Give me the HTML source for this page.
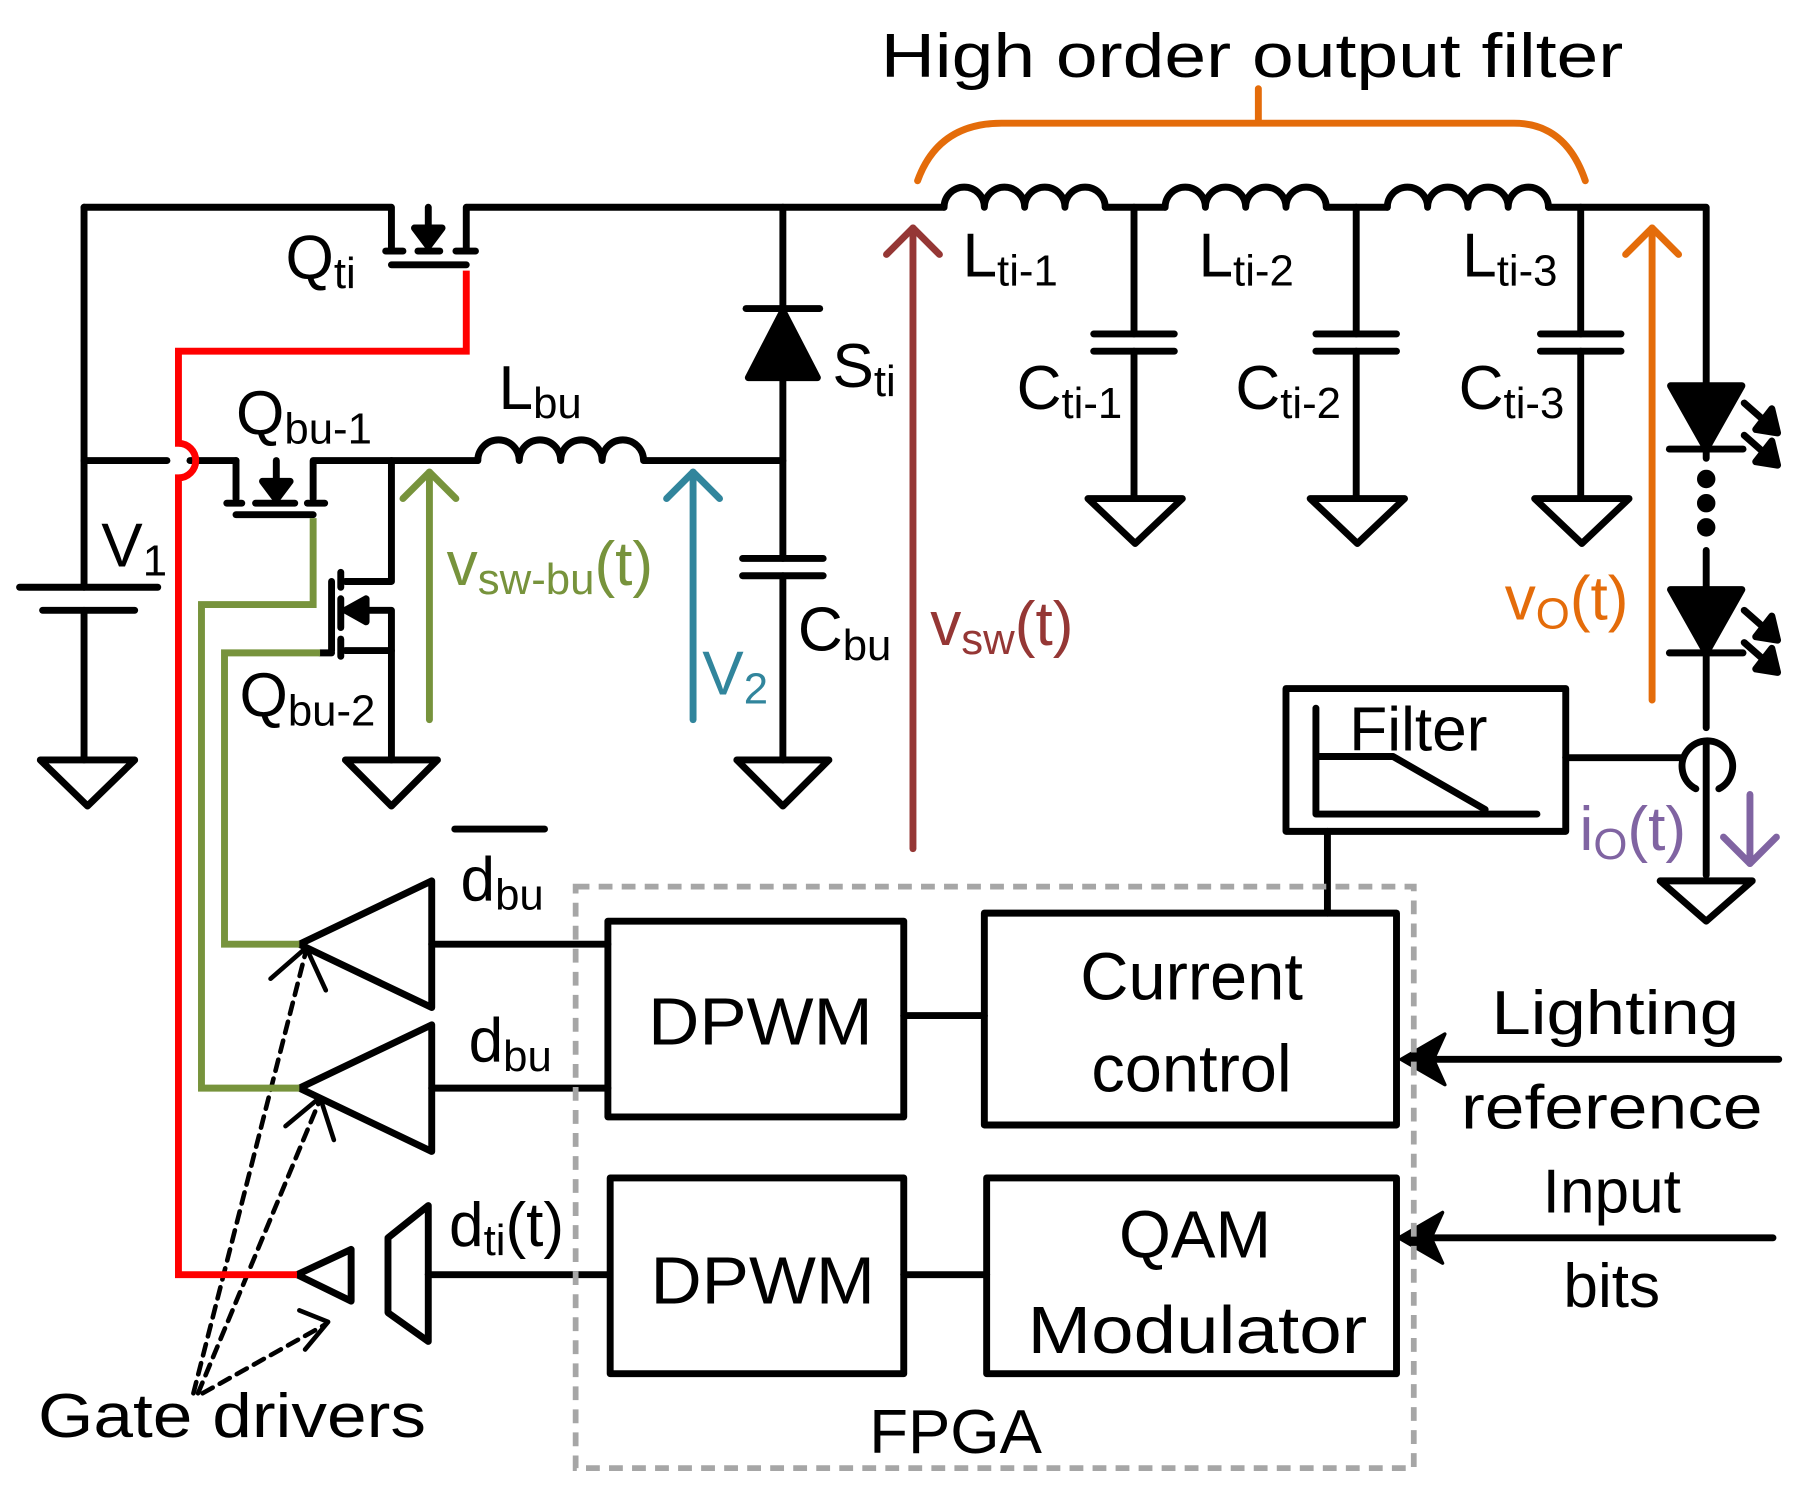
<!DOCTYPE html>
<html><head><meta charset="utf-8"><style>
html,body{margin:0;padding:0;background:#fff;}
svg{display:block;}
text{font-family:"Liberation Sans Narrow","Liberation Sans",sans-serif;}
</style></head><body>
<svg width="1796" height="1490" viewBox="0 0 1560 1294" preserveAspectRatio="none" xmlns="http://www.w3.org/2000/svg">
<g fill="none" stroke="#000" stroke-width="6" stroke-linecap="round" stroke-linejoin="round">
<!-- top wire -->
<polyline points="73,180 340,180 340,215"/>
<polyline points="405,215 405,180 820,180"/>
<line x1="372" y1="180" x2="372" y2="200"/>
<polygon points="360,198 384,198 372,214" fill="#000"/>
<line x1="335" y1="218" x2="350" y2="218"/><line x1="363" y1="218" x2="382" y2="218"/><line x1="396" y1="218" x2="413" y2="218"/>
<line x1="340" y1="230" x2="405" y2="230"/>
<!-- V1 -->
<line x1="73" y1="180" x2="73" y2="510"/>
<line x1="17" y1="510" x2="137" y2="510"/>
<line x1="37" y1="530" x2="117" y2="530"/>
<line x1="73" y1="530" x2="73" y2="660"/>
<polygon points="35,660 117,660 76,700"/>
<!-- y=400 wire -->
<line x1="73" y1="400" x2="145" y2="400"/>
<line x1="165" y1="400" x2="205" y2="400"/>
<polyline points="205,400 205,433"/>
<polyline points="272,433 272,400 415,400"/>
<line x1="240" y1="400" x2="240" y2="418"/>
<polygon points="228,418 252,418 240,434" fill="#000"/>
<line x1="197" y1="437" x2="210" y2="437"/><line x1="222" y1="437" x2="256" y2="437"/><line x1="267" y1="437" x2="282" y2="437"/>
<line x1="205" y1="447" x2="272" y2="447"/>
<!-- Lbu -->
<path d="M415,400 a18,18 0 0 1 36,0 a18,18 0 0 1 36,0 a18,18 0 0 1 36,0 a18,18 0 0 1 36,0"/>
<line x1="560" y1="400" x2="680" y2="400"/>
<!-- Qbu-2 -->
<polyline points="340,400 340,505 300,505"/>
<line x1="296" y1="497" x2="296" y2="510"/><line x1="296" y1="520" x2="296" y2="545"/><line x1="296" y1="555" x2="296" y2="570"/>
<line x1="288" y1="505" x2="288" y2="565"/>
<polyline points="300,530 340,530 340,660"/>
<line x1="300" y1="565" x2="340" y2="565"/>
<line x1="278" y1="567" x2="288" y2="567"/>
<polygon points="300,530 318,520 318,540" fill="#000"/>
<polygon points="300,660 380,660 340,700"/>
<!-- Sti / Cbu -->
<line x1="680" y1="180" x2="680" y2="485"/>
<line x1="648" y1="268" x2="712" y2="268"/>
<polygon points="650,328 710,328 680,270" fill="#000"/>
<line x1="645" y1="485" x2="715" y2="485"/>
<line x1="645" y1="500" x2="715" y2="500"/>
<line x1="680" y1="500" x2="680" y2="660"/>
<polygon points="640,660 720,660 680,700"/>
<!-- Lti inductors -->
<path d="M820,180 a17.5,17.5 0 0 1 35,0 a17.5,17.5 0 0 1 35,0 a17.5,17.5 0 0 1 35,0 a17.5,17.5 0 0 1 35,0"/>
<line x1="960" y1="180" x2="1012" y2="180"/>
<path d="M1012,180 a17.5,17.5 0 0 1 35,0 a17.5,17.5 0 0 1 35,0 a17.5,17.5 0 0 1 35,0 a17.5,17.5 0 0 1 35,0"/>
<line x1="1152" y1="180" x2="1205" y2="180"/>
<path d="M1205,180 a17.5,17.5 0 0 1 35,0 a17.5,17.5 0 0 1 35,0 a17.5,17.5 0 0 1 35,0 a17.5,17.5 0 0 1 35,0"/>
<polyline points="1345,180 1482,180 1482,335"/>
<!-- caps -->
<line x1="985" y1="180" x2="985" y2="290"/><line x1="950" y1="290" x2="1020" y2="290"/><line x1="950" y1="305" x2="1020" y2="305"/><line x1="985" y1="305" x2="985" y2="433"/>
<polygon points="945,433 1027,433 986,472"/>
<line x1="1178" y1="180" x2="1178" y2="290"/><line x1="1143" y1="290" x2="1213" y2="290"/><line x1="1143" y1="305" x2="1213" y2="305"/><line x1="1178" y1="305" x2="1178" y2="433"/>
<polygon points="1138,433 1220,433 1179,472"/>
<line x1="1373" y1="180" x2="1373" y2="290"/><line x1="1338" y1="290" x2="1408" y2="290"/><line x1="1338" y1="305" x2="1408" y2="305"/><line x1="1373" y1="305" x2="1373" y2="433"/>
<polygon points="1333,433 1415,433 1374,472"/>
<!-- LEDs -->
<polygon points="1451,335 1513,335 1482,390" fill="#000"/>
<line x1="1450" y1="390" x2="1514" y2="390"/>
<line x1="1482" y1="390" x2="1482" y2="398"/>
<line x1="1515" y1="350" x2="1540" y2="372"/><line x1="1515" y1="378" x2="1540" y2="400"/>
<polygon points="1544,376 1539,355 1525,373" fill="#000"/>
<polygon points="1544,404 1539,383 1525,401" fill="#000"/>
<circle cx="1482" cy="416" r="5" fill="#000"/><circle cx="1482" cy="437" r="5" fill="#000"/><circle cx="1482" cy="458" r="5" fill="#000"/>
<line x1="1482" y1="478" x2="1482" y2="512"/>
<polygon points="1451,512 1513,512 1482,567" fill="#000"/>
<line x1="1450" y1="567" x2="1514" y2="567"/>
<line x1="1515" y1="530" x2="1540" y2="552"/><line x1="1515" y1="558" x2="1540" y2="580"/>
<polygon points="1544,556 1539,535 1525,553" fill="#000"/>
<polygon points="1544,584 1539,563 1525,581" fill="#000"/>
<line x1="1482" y1="567" x2="1482" y2="632"/>
<path d="M1473,685 A22,22 0 1 1 1493,685"/>
<line x1="1482" y1="645" x2="1482" y2="760"/>
<polygon points="1442,765 1522,765 1482,800"/>
<!-- filter -->
<rect x="1117" y="598" width="243" height="124"/>
<polyline points="1143,615 1143,707 1335,707"/>
<polyline points="1143,657 1210,657 1290,703"/>
<line x1="1360" y1="658" x2="1462" y2="658"/>
<line x1="1153" y1="722" x2="1153" y2="793"/>
<!-- blocks -->
<rect x="528" y="800" width="257" height="170"/>
<rect x="855" y="793" width="358" height="184"/>
<line x1="785" y1="882" x2="855" y2="882"/>
<rect x="530" y="1023" width="255" height="170"/>
<rect x="857" y="1023" width="356" height="170"/>
<line x1="785" y1="1107" x2="857" y2="1107"/>
<line x1="1240" y1="920" x2="1545" y2="920"/>
<polygon points="1217,920 1255,898 1245,920 1255,942" fill="#000" stroke-width="3"/>
<line x1="1240" y1="1075" x2="1540" y2="1075"/>
<polygon points="1215,1075 1253,1053 1243,1075 1253,1097" fill="#000" stroke-width="3"/>
<!-- gate drivers -->
<polygon points="260,820 375,765 375,875"/>
<line x1="375" y1="820" x2="528" y2="820"/>
<polygon points="260,945 375,890 375,1000"/>
<line x1="375" y1="945" x2="528" y2="945"/>
<polygon points="258,1107 305,1085 305,1130"/>
<polygon points="337,1075 372,1047 372,1165 337,1140"/>
<line x1="372" y1="1107" x2="528" y2="1107"/>
<line x1="395" y1="720" x2="473" y2="720"/>
</g>
<!-- dashed pointers -->
<g fill="none" stroke="#000" stroke-width="4" stroke-linecap="round" stroke-linejoin="round">
<g stroke-dasharray="10,7">
<line x1="168" y1="1210" x2="266" y2="825"/>
<line x1="172" y1="1210" x2="278" y2="955"/>
<line x1="176" y1="1210" x2="283" y2="1150"/>
</g>
<polyline points="235,850 266,823 283,860"/>
<polyline points="248,978 278,953 290,990"/>
<polyline points="260,1138 285,1148 265,1172"/>
</g>
<!-- FPGA dashed -->
<rect x="500" y="770" width="728" height="505" fill="none" stroke="#a6a6a6" stroke-width="5" stroke-dasharray="12,8"/>
<!-- red -->
<path d="M405,235 L405,305 L155,305 L155,385 A15,15 0 0 1 155,415 L155,1107 L258,1107" fill="none" stroke="#f00" stroke-width="6"/>
<!-- green -->
<polyline points="272,450 272,525 175,525 175,945 260,945" fill="none" stroke="#77933c" stroke-width="6"/>
<polyline points="278,567 195,567 195,820 260,820" fill="none" stroke="#77933c" stroke-width="6"/>
<!-- voltage arrows -->
<g fill="none" stroke-width="6" stroke-linecap="round" stroke-linejoin="round">
<polyline stroke="#77933c" points="373,625 373,410"/><polyline stroke="#77933c" points="350,433 373,410 396,433"/>
<polyline stroke="#31859c" points="602,625 602,410"/><polyline stroke="#31859c" points="579,433 602,410 625,433"/>
<polyline stroke="#953735" points="793,737 793,198"/><polyline stroke="#953735" points="770,221 793,198 816,221"/>
<polyline stroke="#e46c0a" points="1435,608 1435,198"/><polyline stroke="#e46c0a" points="1412,221 1435,198 1458,221"/>
<polyline stroke="#8064a2" points="1520,690 1520,750"/><polyline stroke="#8064a2" points="1497,727 1520,750 1543,727"/>
<path stroke="#e46c0a" d="M797,157 Q815,107 870,107 L1315,107 Q1360,107 1377,157 M1093,107 L1093,77"/>
</g>
<!-- texts -->
<g font-size="54" fill="#000">
<text x="765" y="67" textLength="645" lengthAdjust="spacingAndGlyphs">High order output filter</text>
<text x="248" y="242">Q<tspan font-size="38" dy="8">ti</tspan></text>
<text x="205" y="377">Q<tspan font-size="38" dy="8">bu-1</tspan></text>
<text x="208" y="622">Q<tspan font-size="38" dy="8">bu-2</tspan></text>
<text x="88" y="492">V<tspan font-size="38" dy="8">1</tspan></text>
<text x="433" y="355">L<tspan font-size="38" dy="8">bu</tspan></text>
<text x="723" y="336">S<tspan font-size="38" dy="8">ti</tspan></text>
<text x="836" y="240">L<tspan font-size="38" dy="8">ti-1</tspan></text>
<text x="1041" y="240">L<tspan font-size="38" dy="8">ti-2</tspan></text>
<text x="1270" y="240">L<tspan font-size="38" dy="8">ti-3</tspan></text>
<text x="883" y="355">C<tspan font-size="38" dy="8">ti-1</tspan></text>
<text x="1073" y="355">C<tspan font-size="38" dy="8">ti-2</tspan></text>
<text x="1267" y="355">C<tspan font-size="38" dy="8">ti-3</tspan></text>
<text x="693" y="565">C<tspan font-size="38" dy="8">bu</tspan></text>
<text x="400" y="782">d<tspan font-size="38" dy="8">bu</tspan></text>
<text x="407" y="922">d<tspan font-size="38" dy="8">bu</tspan></text>
<text x="390" y="1082">d<tspan font-size="38" dy="8">ti</tspan><tspan dy="-8">(t)</tspan></text>
<text x="1172" y="652">Filter</text>
<text x="563" y="907" font-size="58" textLength="195" lengthAdjust="spacingAndGlyphs">DPWM</text>
<text x="565" y="1132" font-size="58" textLength="195" lengthAdjust="spacingAndGlyphs">DPWM</text>
<text x="1035" y="868" font-size="58" text-anchor="middle">Current</text>
<text x="1035" y="948" font-size="58" text-anchor="middle">control</text>
<text x="1038" y="1092" font-size="58" text-anchor="middle">QAM</text>
<text x="1040" y="1175" font-size="58" text-anchor="middle" textLength="295" lengthAdjust="spacingAndGlyphs">Modulator</text>
<text x="1403" y="898" text-anchor="middle" textLength="215" lengthAdjust="spacingAndGlyphs">Lighting</text>
<text x="1400" y="980" text-anchor="middle" textLength="262" lengthAdjust="spacingAndGlyphs">reference</text>
<text x="1400" y="1053" text-anchor="middle">Input</text>
<text x="1400" y="1135" text-anchor="middle">bits</text>
<text x="33" y="1248" textLength="337" lengthAdjust="spacingAndGlyphs">Gate drivers</text>
<text x="755" y="1262" textLength="150" lengthAdjust="spacingAndGlyphs">FPGA</text>
</g>
<g font-size="54">
<text x="388" y="508" fill="#77933c">v<tspan font-size="38" dy="8">sw-bu</tspan><tspan dy="-8">(t)</tspan></text>
<text x="610" y="603" fill="#31859c">V<tspan font-size="38" dy="8">2</tspan></text>
<text x="808" y="560" fill="#953735">v<tspan font-size="38" dy="8">sw</tspan><tspan dy="-8">(t)</tspan></text>
<text x="1307" y="538" fill="#e46c0a">v<tspan font-size="38" dy="8">O</tspan><tspan dy="-8">(t)</tspan></text>
<text x="1372" y="738" fill="#8064a2">i<tspan font-size="38" dy="8">O</tspan><tspan dy="-8">(t)</tspan></text>
</g>
</svg>
</body></html>
